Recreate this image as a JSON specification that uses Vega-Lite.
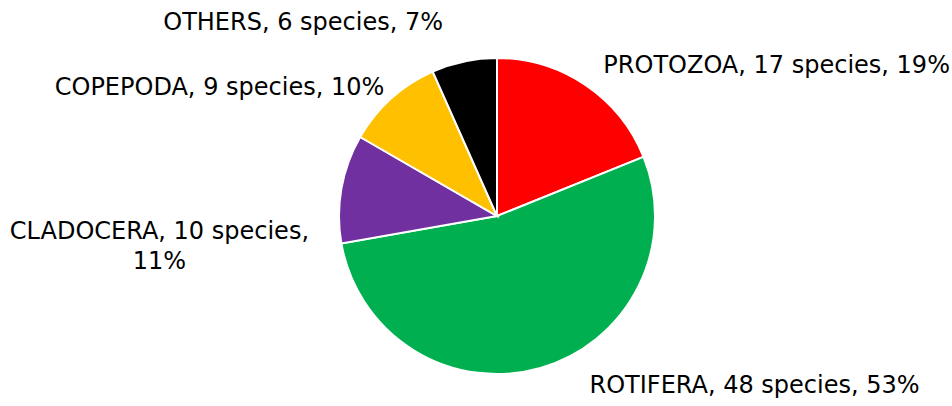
{
  "$schema": "https://vega.github.io/schema/vega-lite/v6.json",
  "width": 910,
  "height": 380,
  "autosize": {"type": "none"},
  "padding": {"left": 42, "top": 26, "right": 0, "bottom": 0},
  "background": "white",
  "view": {"stroke": null},
  "config": {"font": "DejaVu Sans"},
  "data": {
    "values": [
      {"idx": 1, "group": "PROTOZOA", "species": 17, "label": "PROTOZOA, 17 species, 19%"},
      {"idx": 2, "group": "ROTIFERA", "species": 48, "label": "ROTIFERA, 48 species, 53%"},
      {"idx": 3, "group": "CLADOCERA", "species": 10, "label": "CLADOCERA, 10 species,\n11%"},
      {"idx": 4, "group": "COPEPODA", "species": 9, "label": "COPEPODA, 9 species, 10%"},
      {"idx": 5, "group": "OTHERS", "species": 6, "label": "OTHERS, 6 species, 7%"}
    ]
  },
  "encoding": {
    "theta": {"field": "species", "type": "quantitative", "stack": true},
    "order": {"field": "idx", "type": "quantitative"}
  },
  "layer": [
    {
      "mark": {"type": "arc", "radius": 158, "stroke": "white", "strokeWidth": 2},
      "encoding": {
        "color": {
          "field": "group",
          "type": "nominal",
          "scale": {
            "domain": ["PROTOZOA", "ROTIFERA", "CLADOCERA", "COPEPODA", "OTHERS"],
            "range": ["#FF0000", "#00B050", "#7030A0", "#FFC000", "#000000"]
          },
          "legend": null
        }
      }
    },
    {
      "mark": {"type": "text", "radius": 158, "align": "left", "baseline": "middle", "dx": 18, "dy": -19, "fontSize": 24, "color": "#000"},
      "encoding": {"text": {"condition": {"test": "datum.group == 'PROTOZOA'", "field": "label"}, "value": ""}}
    },
    {
      "mark": {"type": "text", "radius": 158, "align": "left", "baseline": "middle", "dx": 49, "dy": 18, "fontSize": 24, "color": "#000"},
      "encoding": {"text": {"condition": {"test": "datum.group == 'ROTIFERA'", "field": "label"}, "value": ""}}
    },
    {
      "mark": {"type": "text", "radius": 158, "align": "center", "baseline": "middle", "dx": -182, "dy": 43, "fontSize": 24, "lineBreak": "\n", "lineHeight": 30, "color": "#000"},
      "encoding": {"text": {"condition": {"test": "datum.group == 'CLADOCERA'", "field": "label"}, "value": ""}}
    },
    {
      "mark": {"type": "text", "radius": 158, "align": "right", "baseline": "middle", "dx": -7, "dy": -11, "fontSize": 24, "color": "#000"},
      "encoding": {"text": {"condition": {"test": "datum.group == 'COPEPODA'", "field": "label"}, "value": ""}}
    },
    {
      "mark": {"type": "text", "radius": 158, "align": "center", "baseline": "middle", "dx": -161, "dy": -38, "fontSize": 24, "color": "#000"},
      "encoding": {"text": {"condition": {"test": "datum.group == 'OTHERS'", "field": "label"}, "value": ""}}
    }
  ]
}
